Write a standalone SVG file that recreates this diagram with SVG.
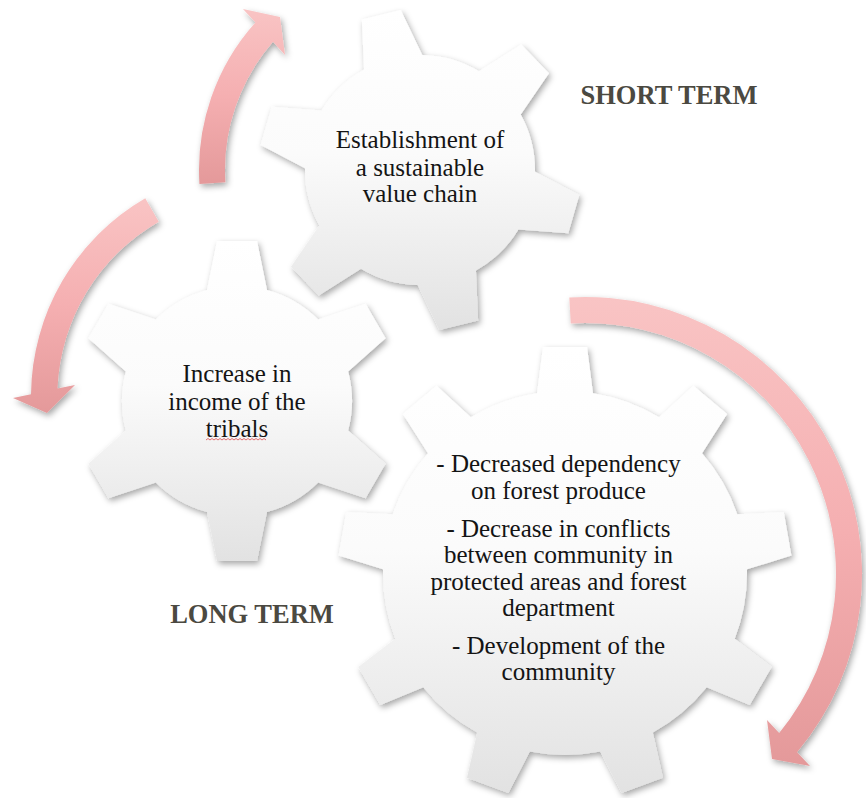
<svg xmlns="http://www.w3.org/2000/svg" width="866" height="798" viewBox="0 0 866 798">
  <defs>
    <linearGradient id="gearFill" x1="0" y1="0" x2="0" y2="1">
      <stop offset="0" stop-color="#ffffff"/>
      <stop offset="0.45" stop-color="#fbfbfb"/>
      <stop offset="1" stop-color="#e2e2e2"/>
    </linearGradient>
    <linearGradient id="gearFillRot" gradientUnits="userSpaceOnUse" x1="38.7" y1="-155.2" x2="-38.7" y2="155.2">
      <stop offset="0" stop-color="#ffffff"/>
      <stop offset="0.45" stop-color="#fbfbfb"/>
      <stop offset="1" stop-color="#e2e2e2"/>
    </linearGradient>
    <linearGradient id="arrowFill" x1="0" y1="0" x2="0" y2="1">
      <stop offset="0" stop-color="#f9c4c4"/>
      <stop offset="0.5" stop-color="#f5afb1"/>
      <stop offset="1" stop-color="#e4999a"/>
    </linearGradient>
    <filter id="shadow" x="-10%" y="-10%" width="125%" height="125%">
      <feDropShadow dx="2" dy="3" stdDeviation="3" flood-color="#000000" flood-opacity="0.35"/>
    </filter>
    <path id="gear6" d="M -30,-111.02 L -20,-160 L 20,-160 L 30,-111.02 A 115 115 0 0 1 81.15,-81.49 L 128.56,-97.32 L 148.56,-62.68 L 111.15,-29.53 A 115 115 0 0 1 111.15,29.53 L 148.56,62.68 L 128.56,97.32 L 81.15,81.49 A 115 115 0 0 1 30,111.02 L 20,160 L -20,160 L -30,111.02 A 115 115 0 0 1 -81.15,81.49 L -128.56,97.32 L -148.56,62.68 L -111.15,29.53 A 115 115 0 0 1 -111.15,-29.53 L -148.56,-62.68 L -128.56,-97.32 L -81.15,-81.49 A 115 115 0 0 1 -30,-111.02 Z"/>
  </defs>
  <style>
    .gear { stroke: none; }
    .arrow { fill: url(#arrowFill); stroke: none; }
    .txt { font-family: "Liberation Serif", "Times New Roman", serif; font-size: 25px; fill: #141414; text-anchor: middle; }
    .head { font-family: "Liberation Serif", "Times New Roman", serif; font-size: 26.5px; font-weight: bold; fill: #4b4941; text-anchor: middle; }
  </style>

  <g id="connectors" filter="url(#shadow)">
    <path id="arrow-short" class="arrow" d="M 199.44,183.88 A 221 221 0 0 1 255.38,22.56 L 243,9 L 280,17 L 285,55 L 273,41.87 A 195 195 0 0 0 225.38,182.24 Z"/>
    <path id="arrow-income" class="arrow" d="M 145.25,198.25 A 229.5 229.5 0 0 0 31,394.2 L 13,398 L 47,413 L 75,385 L 57.5,388.6 A 202.5 202.5 0 0 1 158.75,221.63 Z"/>
    <path id="arrow-long" class="arrow" d="M 569.3,297.45 A 277 277 0 0 1 797.1,752.2 L 810,766 L 772,759 L 767,720 L 779.2,733 A 251 251 0 0 0 570.77,323.4 Z"/>
  </g>

  <g id="gear-short" filter="url(#shadow)">
    <use href="#gear6" class="gear" fill="url(#gearFillRot)" transform="translate(420,170) rotate(-14)"/>
  </g>
  <g id="gear-short-text">
    <text class="txt" x="420" y="148">Establishment of</text>
    <text class="txt" x="420" y="176">a sustainable</text>
    <text class="txt" x="420" y="202">value chain</text>
  </g>

  <g id="gear-income" filter="url(#shadow)">
    <use href="#gear6" class="gear" fill="url(#gearFill)" transform="translate(237,401)"/>
  </g>
  <g id="gear-income-text">
    <text class="txt" x="237" y="382">Increase in</text>
    <text class="txt" x="237" y="410">income of the</text>
    <text class="txt" x="237" y="437">tribals</text>
    <path d="M206,440 l2,-1.5 2,1.5 2,-1.5 2,1.5 2,-1.5 2,1.5 2,-1.5 2,1.5 2,-1.5 2,1.5 2,-1.5 2,1.5 2,-1.5 2,1.5 2,-1.5 2,1.5 2,-1.5 2,1.5 2,-1.5 2,1.5 2,-1.5 2,1.5 2,-1.5 2,1.5 2,-1.5 2,1.5 2,-1.5 2,1.5 2,-1.5 2,1.5" fill="none" stroke="#e06060" stroke-width="0.9"/>
  </g>

  <g id="gear-long" filter="url(#shadow)">
    <path class="gear" fill="url(#gearFill)" transform="translate(565,573)" d="M -28,-179.83 L -22,-226 L 22,-226 L 28,-179.83 A 182 182 0 0 1 94.15,-155.75 L 128.42,-187.26 L 162.12,-158.98 L 137.05,-119.75 A 182 182 0 0 1 172.24,-58.79 L 218.74,-60.91 L 226.38,-17.57 L 181.96,-3.65 A 182 182 0 0 1 169.74,65.67 L 206.72,93.95 L 184.72,132.05 L 141.74,114.17 A 182 182 0 0 1 87.81,159.41 L 97.96,204.85 L 56.62,219.89 L 35.19,178.57 A 182 182 0 0 1 -35.19,178.57 L -56.62,219.89 L -97.96,204.85 L -87.81,159.41 A 182 182 0 0 1 -141.74,114.17 L -184.72,132.05 L -206.72,93.95 L -169.74,65.67 A 182 182 0 0 1 -181.96,-3.65 L -226.38,-17.57 L -218.74,-60.91 L -172.24,-58.79 A 182 182 0 0 1 -137.05,-119.75 L -162.12,-158.98 L -128.42,-187.26 L -94.15,-155.75 A 182 182 0 0 1 -28,-179.83 Z"/>
  </g>
  <g id="gear-long-text">
    <text class="txt" x="558.5" y="472">- Decreased dependency</text>
    <text class="txt" x="558.5" y="498.5">on forest produce</text>
    <text class="txt" x="558.5" y="537">- Decrease in conflicts</text>
    <text class="txt" x="558.5" y="563">between community in</text>
    <text class="txt" x="558.5" y="590">protected areas and forest</text>
    <text class="txt" x="558.5" y="616">department</text>
    <text class="txt" x="558.5" y="653.5">- Development of the</text>
    <text class="txt" x="558.5" y="679.5">community</text>
  </g>

  <g id="labels">
    <text class="head" x="669" y="104">SHORT TERM</text>
    <text class="head" x="252" y="623">LONG TERM</text>
  </g>
</svg>
